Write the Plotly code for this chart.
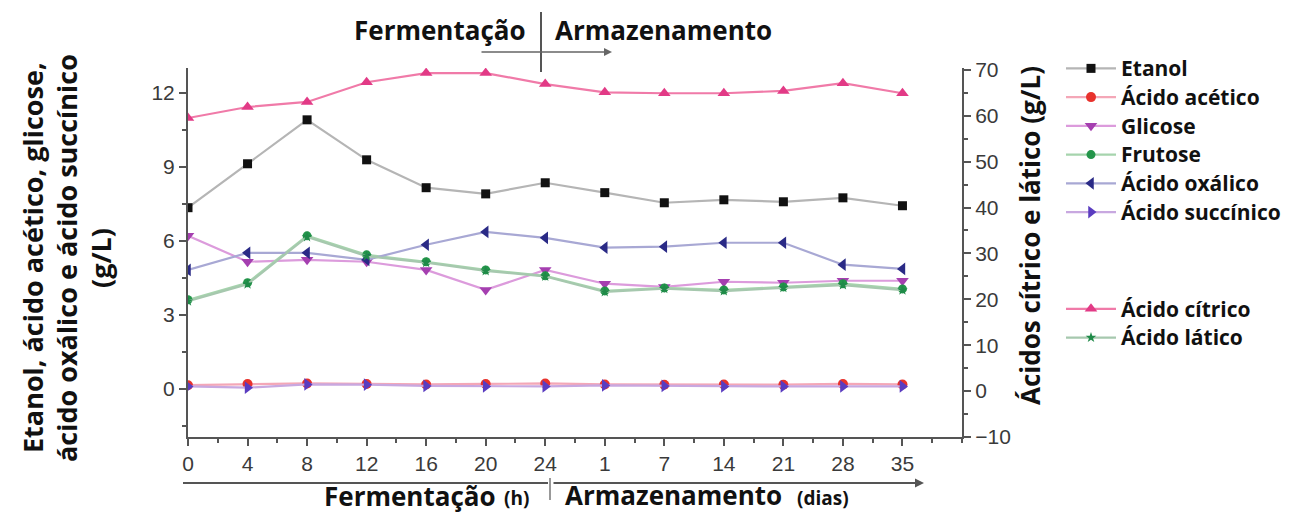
import plotly.graph_objects as go

# ---------------- data ----------------
time_labels = ["0", "4", "8", "12", "16", "20", "24", "1", "7", "14", "21", "28", "35"]

etanol = [7.34, 9.12, 10.9, 9.28, 8.15, 7.9, 8.35, 7.95, 7.54, 7.66, 7.58, 7.74, 7.42]
acido_acetico = [0.15, 0.2, 0.22, 0.2, 0.18, 0.2, 0.22, 0.18, 0.17, 0.18, 0.17, 0.2, 0.18]
glicose = [6.2, 5.15, 5.23, 5.15, 4.82, 4.01, 4.82, 4.26, 4.13, 4.34, 4.3, 4.38, 4.38]
frutose = [3.61, 4.3, 6.2, 5.43, 5.15, 4.82, 4.58, 3.97, 4.09, 4.01, 4.13, 4.26, 4.05]
acido_oxalico = [4.82, 5.51, 5.51, 5.23, 5.84, 6.36, 6.12, 5.72, 5.76, 5.92, 5.92, 5.03, 4.86]
acido_succinico = [0.1, 0.05, 0.18, 0.17, 0.12, 0.1, 0.1, 0.14, 0.12, 0.1, 0.1, 0.1, 0.1]
acido_citrico = [59.5, 61.9, 63.0, 67.3, 69.3, 69.3, 66.9, 65.1, 64.9, 64.9, 65.4, 67.1, 64.9]
acido_latico = [19.6, 23.3, 33.6, 29.4, 28.0, 26.2, 25.0, 21.6, 22.3, 21.8, 22.5, 23.1, 22.0]

left_ticks = [0, 3, 6, 9, 12]
right_ticks = [-10, 0, 10, 20, 30, 40, 50, 60, 70]

# ---------------- layout helpers ----------------
W, H = 1303, 513
PX0, PX1, PY0, PY1 = 188, 962, 68, 437


def px(x):
    return (x - PX0) / (PX1 - PX0)


def py(y):
    return (PY1 - y) / (PY1 - PY0)


xs = list(range(len(time_labels)))

series = [
    ("Etanol", etanol, "y", "square", "#111111", "#b5b5b5", 9),
    ("Ácido acético", acido_acetico, "y", "circle", "#e8322c", "#f4a7b7", 10),
    ("Glicose", glicose, "y", "triangle-down", "#a53fb0", "#dc9bdc", 11),
    ("Frutose", frutose, "y", "circle", "#23954a", "#a6d4ad", 9),
    ("Ácido oxálico", acido_oxalico, "y", "triangle-left", "#2a2a86", "#a8a8d4", 11),
    ("Ácido succínico", acido_succinico, "y", "triangle-right", "#5a3cc0", "#c8a8e0", 11),
    ("Ácido cítrico", acido_citrico, "y2", "triangle-up", "#e23a86", "#f07aa8", 11),
    ("Ácido lático", acido_latico, "y2", "star", "#1f8a48", "#a6c8ae", 8),
]

fig = go.Figure()
for i, (name, vals, yax, sym, mcol, lcol, msz) in enumerate(series):
    fig.add_trace(go.Scatter(
        x=xs, y=vals, yaxis=yax,
        name=f'<span style="font-size:21px"><b>{name}</b></span>',
        mode="lines+markers",
        line=dict(color=lcol, width=2.2),
        marker=dict(symbol=sym, color=mcol, size=msz),
        legendgroup="g1" if i < 6 else "g2",
    ))

axis_col = "#555555"
tick_font = dict(family="Liberation Sans, Arial, sans-serif", size=21, color="#3a3a3a")

fig.update_layout(
    width=W, height=H,
    margin=dict(l=PX0, r=W - PX1, t=PY0, b=H - PY1, autoexpand=False),
    paper_bgcolor="white", plot_bgcolor="white",
    showlegend=True,
    legend=dict(
        x=px(1061), y=py(49), xanchor="left", yanchor="top",
        font=dict(family="Open Sans, Noto Sans, sans-serif", size=19.8, color="#111111"),
        traceorder="grouped", tracegroupgap=68, itemwidth=50,
        bgcolor="rgba(0,0,0,0)", maxheight=1.0,
    ),
    xaxis=dict(
        range=[0, 13], tickvals=xs, ticktext=time_labels,
        showgrid=False, zeroline=False,
        showline=True, linecolor=axis_col, linewidth=2,
        ticks="outside", ticklen=7, tickwidth=2, tickcolor=axis_col,
        minor=dict(dtick=0.5, tick0=0, ticks="outside", ticklen=4, tickwidth=2, tickcolor=axis_col),
        tickfont=tick_font,
    ),
    yaxis=dict(
        range=[-1.95, 13.0], tickvals=left_ticks,
        showgrid=False, zeroline=False,
        showline=True, linecolor=axis_col, linewidth=2,
        ticks="outside", ticklen=7, tickwidth=2, tickcolor=axis_col,
        minor=dict(dtick=1.5, tick0=0, ticks="outside", ticklen=4, tickwidth=2, tickcolor=axis_col),
        tickfont=tick_font,
    ),
    yaxis2=dict(
        range=[-10.0, 70.4], tickvals=right_ticks,
        overlaying="y", side="right", anchor="x",
        showgrid=False, zeroline=False,
        showline=True, linecolor=axis_col, linewidth=2,
        ticks="outside", ticklen=7, tickwidth=2, tickcolor=axis_col,
        minor=dict(dtick=5, tick0=0, ticks="outside", ticklen=4, tickwidth=2, tickcolor=axis_col),
        tickfont=tick_font, ticklabelstandoff=0,
    ),
)

ff = "Open Sans, Noto Sans, sans-serif"
title_font = dict(family=ff, size=27, color="#111111")
big_font = dict(family=ff, size=26, color="#111111")
small_font = dict(family=ff, size=19, color="#111111")

ann = []
# left axis title (three rotated lines)
for xp, txt in [(32, "Etanol, ácido acético, glicose,"),
                (66, "ácido oxálico e ácido succínico"),
                (100, "(g/L)")]:
    ann.append(dict(x=px(xp), y=py(258), xref="paper", yref="paper", text=f"<b>{txt}</b>",
                    textangle=-90, showarrow=False, font=title_font,
                    xanchor="center", yanchor="middle"))
# right axis title
ann.append(dict(x=px(1030), y=py(236), xref="paper", yref="paper",
                text="<b>Ácidos cítrico e lático (g/L)</b>", textangle=-90, showarrow=False,
                font=dict(family=ff, size=26, color="#111111"),
                xanchor="center", yanchor="middle"))
# top labels
ann.append(dict(x=px(528), y=py(30), xref="paper", yref="paper", text="<b>Fermentação</b>",
                showarrow=False, font=big_font, xanchor="right", yanchor="middle"))
ann.append(dict(x=px(553), y=py(30), xref="paper", yref="paper", text="<b>Armazenamento</b>",
                showarrow=False, font=big_font, xanchor="left", yanchor="middle"))
# top arrow
ann.append(dict(x=px(612), y=py(52), xref="paper", yref="paper", text="", showarrow=True,
                ax=-132, ay=0, arrowhead=2, arrowsize=1, arrowwidth=1.6, arrowcolor="#666666"))
# bottom labels
ann.append(dict(x=px(498), y=py(496), xref="paper", yref="paper", text="<b>Fermentação</b>",
                showarrow=False, font=big_font, xanchor="right", yanchor="middle"))
ann.append(dict(x=px(502), y=py(498), xref="paper", yref="paper", text="<b>(h)</b>",
                showarrow=False, font=small_font, xanchor="left", yanchor="middle"))
ann.append(dict(x=px(563), y=py(495), xref="paper", yref="paper", text="<b>Armazenamento</b>",
                showarrow=False, font=big_font, xanchor="left", yanchor="middle"))
ann.append(dict(x=px(795), y=py(498), xref="paper", yref="paper", text="<b>(dias)</b>",
                showarrow=False, font=small_font, xanchor="left", yanchor="middle"))
# bottom right arrow
ann.append(dict(x=px(924), y=py(483), xref="paper", yref="paper", text="", showarrow=True,
                ax=-372, ay=0, arrowhead=2, arrowsize=0.9, arrowwidth=2, arrowcolor="#555555"))
fig.update_layout(annotations=ann)

shapes = [
    # top vertical divider
    dict(type="line", xref="paper", yref="paper", x0=px(541), x1=px(541), y0=py(12), y1=py(72),
         line=dict(color="#555555", width=2)),
    # bottom left bracket line
    dict(type="line", xref="paper", yref="paper", x0=px(183), x1=px(548), y0=py(483), y1=py(483),
         line=dict(color="#555555", width=2)),
    # bottom vertical divider
    dict(type="line", xref="paper", yref="paper", x0=px(550), x1=px(550), y0=py(478), y1=py(500),
         line=dict(color="#777777", width=1.5)),
]
fig.update_layout(shapes=shapes)

fig.write_html("out.html", config={"displayModeBar": False},
               post_script="document.body.style.margin='0px';")
